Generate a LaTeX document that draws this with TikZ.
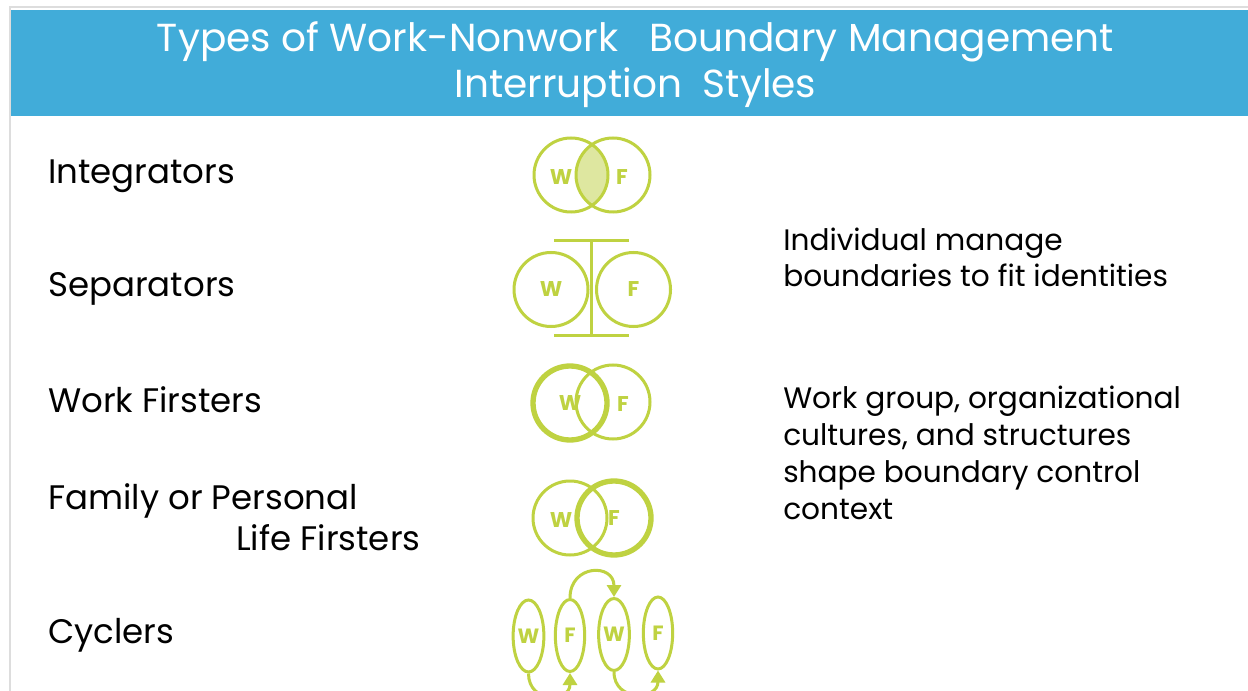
\documentclass[tikz,border=0pt]{standalone}
\usepackage{fontspec}
\setmainfont{Poppins}
\usetikzlibrary{arrows.meta,shapes.geometric}
\definecolor{bar}{HTML}{41ACD9}
\definecolor{lime}{HTML}{BFD241}
\definecolor{limel}{HTML}{DEE7A0}
\definecolor{edge}{HTML}{DDDDDD}
\tikzset{
  ring/.style={circle, draw=lime, line width=2.25pt, minimum size=55.5pt, inner sep=0pt},
  ringb/.style={ring, line width=4pt},
  oval/.style={ellipse, draw=lime, line width=2.25pt, minimum width=22pt, minimum height=54pt, inner sep=0pt,
    text=lime, font=\bfseries\fontsize{15.5}{15.5}\selectfont},
  let/.style={text=lime, font=\bfseries\fontsize{16}{16}\selectfont, inner sep=0pt},
  wall/.style={draw=lime, line width=2.25pt},
  cyc/.style={draw=lime, line width=2.25pt, -{Triangle[length=9pt,width=10.5pt]}},
  lab/.style={font=\fontsize{25.5}{30.75}\selectfont, anchor=base west, align=left, inner sep=0pt},
  note/.style={font=\fontsize{22.2}{27.75}\selectfont, anchor=base west, align=left, inner sep=0pt},
  head/.style={text=white, font=\fontsize{29.3}{34.5}\selectfont, align=center, inner sep=0pt},
}

\begin{document}
\begin{tikzpicture}[x=0.75pt, y=-0.75pt]
  \clip (0,0) rectangle (1248,691);
  \fill[white] (0,0) rectangle (1248,691);
  % frame and title bar
  \draw[edge, line width=1.5pt] (9.5,691) -- (9.5,7.5) -- (1248,7.5);
  \fill[bar] (11,10) rectangle (1248,116);
  % base of a multi-line node sits on its last line
  \node[head, anchor=base] (title) at (635.5,98)
    {Types of Work-Nonwork\ \ \ Boundary Management\\Interruption\ \ Styles};

  % row labels
  \node[lab] (integ) at (48,184) {Integrators};
  \node[lab] (sep) at (48,297) {Separators};
  \node[lab] (wfirst) at (48,412) {Work Firsters};
  \node[lab] (ffirst) at (48,550) {Family or Personal\\\hspace*{141pt}Life Firsters};
  \node[lab] (cyc) at (48,643) {Cyclers};

  % integrators
  \coordinate (iwc) at (571,175);
  \coordinate (ifc) at (613,175);
  \begin{scope}
    \clip (iwc) circle (37);
    \fill[limel] (ifc) circle (37);
  \end{scope}
  \node[ring] (iw) at (iwc) {};
  \node[ring] (if) at (ifc) {};
  \node[let] (iwl) at (561,177) {W};
  \node[let] (ifl) at (622,177) {F};

  % separators
  \node[ring] (sw) at (551,289.5) {};
  \node[ring] (sf) at (633.5,289.5) {};
  \node[let] (swl) at (sw) {W};
  \node[let] (sfl) at (sf) {F};
  \draw[wall] (554,241) -- (629,241);
  \draw[wall] (591,241) -- (591,335);
  \draw[wall] (554,335) -- (629,335);

  % work firsters
  \node[ring] (ff) at (613,402) {};
  \node[ringb] (fw) at (570,403) {};
  \node[let] (fwl) at (fw) {W};
  \node[let] (ffl) at (623,404) {F};

  % family firsters
  \node[ring] (pw) at (570,518) {};
  \node[ringb] (pf) at (614,518) {};
  \node[let] (pwl) at (561,520) {W};
  \node[let] (pfl) at (pf) {F};

  % cyclers
  \node[oval] (c1) at (528.5,636) {W};
  \node[oval] (c2) at (570,635.5) {F};
  \node[oval] (c3) at (614,634.5) {W};
  \node[oval] (c4) at (658,633) {F};
  \draw[cyc] (c2.north) .. controls +(0,-34) and +(0,-34) .. (c3.north);
  \draw[cyc] (c1.south) .. controls +(0,30) and +(0,30) .. (c2.south);
  \draw[cyc] (c3.south) .. controls +(0,30) and +(0,30) .. (c4.south);

  % notes
  \node[note] (indiv) at (783,287) {Individual manage\\boundaries to fit identities};
  \node[note] (group) at (783,519)
    {Work group, organizational\\cultures, and structures\\shape boundary control\\context};
\end{tikzpicture}
\end{document}
